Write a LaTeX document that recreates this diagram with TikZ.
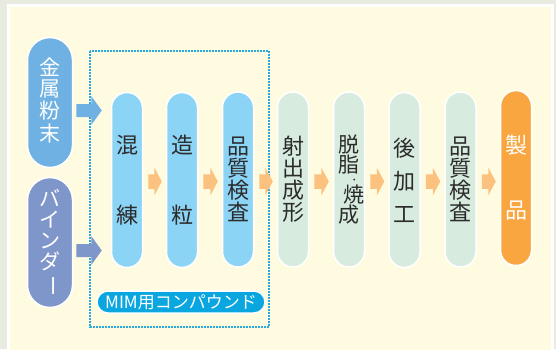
\documentclass[tikz,border=0pt]{standalone}
\usepackage{fontspec}
\setmainfont{Noto Sans CJK JP}
\definecolor{outerbg}{HTML}{E9EAE0}
\definecolor{panel}{HTML}{FFFBE0}
\definecolor{kinc}{HTML}{6FB1E2}
\definecolor{bindc}{HTML}{7F96CB}
\definecolor{lblue}{HTML}{8CD4F5}
\definecolor{pgreen}{HTML}{D8EBDF}
\definecolor{orgc}{HTML}{F9A640}
\definecolor{oarrow}{HTML}{FBC27F}
\definecolor{badgec}{HTML}{0AA6E0}
\definecolor{dotc}{HTML}{2AA9E0}
\definecolor{txt}{HTML}{2B2B2B}
\tikzset{
  pill/.style={rectangle, minimum width=31pt, minimum height=175pt, rounded corners=15.4pt,
    draw=white, line width=1.5pt, inner sep=0pt, align=center, text=txt,
    font=\fontsize{22}{22}\selectfont},
  bluepill/.style={pill, fill=lblue},
  greenpill/.style={pill, fill=pgreen},
  orgpill/.style={pill, fill=orgc, text=white},
  lpill/.style={rectangle, minimum width=45pt, minimum height=130pt, rounded corners=22.4pt,
    draw=white, line width=1.5pt, inner sep=0pt, align=center, text=white,
    font=\fontsize{21}{21}\selectfont},
  badge/.style={rectangle, minimum width=168pt, minimum height=22pt, rounded corners=11pt,
    fill=badgec, draw=white, line width=1.5pt, text=white, inner sep=0pt,
    font=\fontsize{17}{17}\selectfont},
  dotbox/.style={draw=dotc, line width=1.1pt, dash pattern=on 1.6pt off 1.4pt}
}
% block arrow: #1 colour, #2 start, #3 end, #4 shaft half height, #5 head half height, #6 head length
\newcommand\blkarrow[6]{%
  \path (#2) coordinate (bs) (#3) coordinate (be);
  \fill[#1] ([yshift=#4]bs) -- ([xshift=-#6,yshift=#4]be) -- ([xshift=-#6,yshift=#5]be) -- (be)
    -- ([xshift=-#6,yshift=-#5]be) -- ([xshift=-#6,yshift=-#4]be) -- ([yshift=-#4]bs) -- cycle;}
\begin{document}
\begin{tikzpicture}[x=1pt,y=-1pt]
\useasboundingbox (0,0) rectangle (556,349);
\fill[outerbg] (0,0) rectangle (556,349);
\fill[panel] (8.5,5.5) rectangle (552.5,352);
\draw[white, line width=2.5pt] (8.5,352) -- (8.5,5.5) -- (552.5,5.5) -- (552.5,352);
% dotted box
\draw[dotbox] (90,51) rectangle (269,327);
% left pills
\node[lpill, fill=kinc] (kin) at (50,102.5) {\raisebox{6pt}{\shortstack{金\\属\\粉\\末}}};
\node[lpill, fill=bindc] (bind) at (50,242.5) {バ\\イ\\ン\\ダ\\\rotatebox[origin=c]{-90}{ー}};
% process pills
\node[bluepill] (p1) at (127,180) {混\\[48pt]練};
\node[bluepill] (p2) at (182,180) {造\\[48pt]粒};
\node[bluepill] (p3) at (238,179.5) {品\\質\\検\\査};
\node[greenpill] (p4) at (293,179.5) {射\\出\\成\\形};
\node[greenpill, font=\fontsize{21}{20}\selectfont] (p5) at (349,179.5)
  {脱\\脂\\[10pt]焼\hspace{-10.5pt}\makebox[0pt]{\smash{\raisebox{19pt}{\fontsize{9}{9}\selectfont ・}}}\hspace{10.5pt}\\成};
\node[greenpill] (p6) at (404.5,180) {後\\[11pt]加\\[11pt]工};
\node[greenpill] (p7) at (460.5,179.5) {品\\質\\検\\査};
\node[orgpill] (p8) at (516,178) {製\\[43pt]品};
% badge
\node[badge] (mim) at (181,302) {MIM用コンパウンド};
% blue arrows
\blkarrow{kinc}{[xshift=3pt]kin.east |- 0,110.5}{[xshift=-9pt]p1.west |- 0,110.5}{6.5pt}{14.5pt}{10.5pt}
\blkarrow{bindc}{[xshift=3pt]bind.east |- 0,250.5}{[xshift=-9pt]p1.west |- 0,250.5}{6.5pt}{14.5pt}{10.5pt}
% orange arrows
\foreach \a/\b in {p1/p2,p2/p3,p3/p4,p4/p5,p5/p6,p6/p7,p7/p8}{
  \blkarrow{oarrow}{[xshift=5pt]\a.east |- 0,181.5}{[xshift=-4pt]\b.west |- 0,181.5}{7.25pt}{14pt}{7.5pt}
}
\end{tikzpicture}
\end{document}
